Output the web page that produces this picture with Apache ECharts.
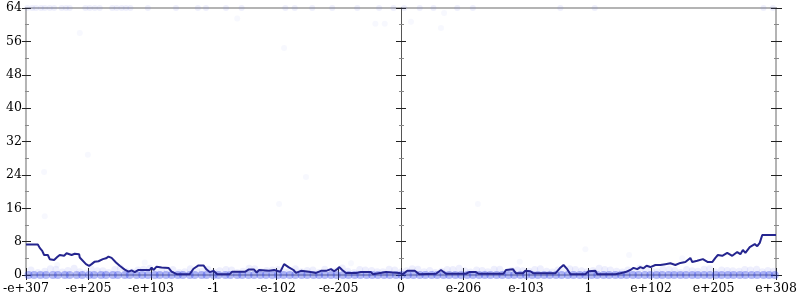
<!DOCTYPE html>
<html>
<head>
<meta charset="utf-8">
<script src="https://cdn.jsdelivr.net/npm/echarts@6/dist/echarts.min.js"></script>
<style>html,body{margin:0;padding:0;background:#fff}#c{width:800px;height:300px}</style>
</head>
<body>
<div id="c"></div>
<script>
const xTickLabels = ['-e+307','-e+205','-e+103','-1','-e-102','-e-205','0','e-206','e-103','1','e+102','e+205','e+308'];
const yTicks = [0, 8, 16, 24, 32, 40, 48, 56, 64];

const lineX = [-6.00,-5.81,-5.78,-5.74,-5.71,-5.65,-5.62,-5.55,-5.50,-5.46,-5.39,-5.35,-5.27,-5.22,-5.15,-5.14,-5.11,-5.04,-4.99,-4.95,-4.90,-4.84,-4.77,-4.72,-4.68,-4.63,-4.56,-4.50,-4.42,-4.36,-4.31,-4.26,-4.20,-4.02,-3.99,-3.96,-3.91,-3.83,-3.72,-3.67,-3.59,-3.38,-3.32,-3.24,-3.16,-3.11,-3.06,-3.00,-2.94,-2.74,-2.70,-2.49,-2.44,-2.35,-2.31,-2.27,-2.11,-2.03,-1.93,-1.87,-1.80,-1.72,-1.68,-1.60,-1.47,-1.36,-1.28,-1.20,-1.12,-1.07,-1.02,-0.99,-0.94,-0.88,-0.72,-0.64,-0.48,-0.45,-0.24,-0.03,
 0.03,0.10,0.22,0.29,0.56,0.64,0.72,1.04,1.09,1.20,1.24,1.64,1.68,1.79,1.84,1.95,1.99,2.07,2.12,2.47,2.54,2.60,2.66,2.71,2.95,3.00,3.11,3.14,3.43,3.51,3.59,3.67,3.72,3.78,3.83,3.88,3.93,3.99,4.07,4.15,4.23,4.31,4.39,4.47,4.55,4.63,4.66,4.74,4.83,4.91,4.98,5.03,5.07,5.14,5.22,5.30,5.38,5.43,5.47,5.51,5.58,5.66,5.70,5.74,5.78,6.00];
const lineY = [7.3,7.3,6.5,5.8,4.8,4.8,3.8,3.6,4.3,4.8,4.6,5.2,4.8,5.1,5.0,4.2,4.0,2.6,2.2,2.6,3.2,3.3,3.8,4.0,4.4,4.1,3.0,2.2,1.3,0.8,1.1,0.7,1.2,1.2,1.8,1.2,2.0,1.8,1.7,0.8,0.2,0.2,1.5,2.3,2.3,1.3,0.7,1.0,0.2,0.2,0.8,0.8,1.3,1.3,0.6,1.2,1.0,1.2,0.8,2.6,1.9,1.2,0.5,1.0,0.8,0.5,1.0,1.0,1.4,0.9,1.4,1.9,1.2,0.5,0.5,0.7,0.7,0.2,0.7,0.5,
 0.2,1.0,1.0,0.2,0.3,1.2,0.3,0.3,0.7,0.7,0.3,0.3,1.2,1.4,0.4,0.4,1.0,0.9,0.4,0.4,1.6,2.4,1.4,0.2,0.2,0.9,1.0,0.2,0.2,0.4,0.7,1.2,1.7,1.4,1.9,1.6,2.2,1.9,2.4,2.4,2.6,2.8,2.4,2.9,3.1,4.1,3.1,3.4,3.8,3.1,3.1,4.1,4.8,4.6,5.3,4.6,5.5,5.0,6.0,5.3,6.7,7.4,6.9,7.7,9.6,9.6];

const zeroX = [-5.96,-5.87,-5.77,-5.68,-5.57,-5.49,-5.38,-5.30,-5.19,-5.10,-4.99,-4.91,-4.80,-4.72,-4.61,-4.53,-4.42,-4.34,-4.23,-4.14,-4.05,-3.94,-3.86,-3.76,-3.67,-3.57,-3.49,-3.38,-3.30,-3.19,-3.11,-3.00,-2.92,-2.81,-2.73,-2.62,-2.54,-2.44,-2.35,-2.25,-2.16,-2.06,-1.97,-1.88,-1.78,-1.69,-1.59,-1.50,-1.40,-1.31,-1.22,-1.12,-1.03,-0.93,-0.84,-0.74,-0.65,-0.55,-0.46,-0.37,-0.27,-0.18,-0.08,0.01,0.11,0.20,0.30,0.39,0.49,0.58,0.68,0.77,0.87,0.96,1.06,1.15,1.25,1.34,1.43,1.53,1.62,1.72,1.81,1.91,2.00,2.10,2.19,2.29,2.38,2.48,2.57,2.67,2.76,2.86,2.95,3.05,3.14,3.24,3.33,3.43,3.52,3.61,3.71,3.80,3.90,3.99,4.09,4.18,4.28,4.37,4.47,4.56,4.66,4.75,4.85,4.94,5.04,5.13,5.23,5.32,5.42,5.51,5.61,5.70,5.80,5.89,5.98];
const haloX = [-5.92,-5.81,-5.70,-5.61,-5.52,-5.42,-5.33,-5.23,-5.14,-5.05,-4.96,-4.86,-4.77,-4.68,-4.58,-4.49,-4.40,-4.30,-4.21,-4.12,-4.02,-3.93,-3.83,-3.74,-3.65,-3.55,-3.46,-3.37,-3.27,-3.18,-3.09,-2.99,-2.90,-2.80,-2.71,-2.62,-2.53,-2.43,-2.34,-2.24,-2.15,-2.06,-1.97,-1.87,-1.78,-1.69,-1.59,-1.50,-1.41,-1.31,-1.22,-1.12,-1.03,-0.94,-0.85,-0.75,-0.66,-0.57,-0.47,-0.38,-0.29,-0.19,-0.10,0.00,0.09,0.18,0.27,0.37,0.46,0.55,0.65,0.74,0.83,0.93,1.02,1.11,1.21,1.30,1.39,1.49,1.58,1.67,1.77,1.86,1.95,2.05,2.14,2.23,2.33,2.42,2.51,2.61,2.70,2.79,2.89,2.98,3.07,3.17,3.26,3.35,3.45,3.54,3.63,3.73,3.82,3.91,4.01,4.10,4.19,4.29,4.38,4.47,4.57,4.66,4.75,4.85,4.94,5.03,5.13,5.22,5.31,5.41,5.50,5.59,5.69,5.78,5.87,5.96];
const haloY = [1.2,0.6,0.9,1.5,1.4,0.7,1.1,1.6,0.8,0.5,1.5,1.0,1.0,0.6,1.3,1.7,0.9,0.7,1.2,1.4,1.6,0.8,1.0,1.2,1.3,0.6,0.8,1.5,1.1,0.9,1.4,0.7,1.0,1.3,1.2,0.6,0.9,1.6,1.5,0.8,1.1,1.2,1.3,0.7,1.0,1.5,0.8,1.1,1.2,0.6,1.4,0.9,1.0,1.7,0.9,0.6,1.3,1.2,1.1,0.8,0.8,1.4,1.2,0.7,1.0,1.5,1.4,0.8,1.1,0.6,0.9,1.3,1.3,1.6,1.0,0.7,1.2,1.1,0.8,1.4,1.4,0.6,1.1,1.2,1.0,0.9,1.3,1.5,0.9,0.7,1.2,1.0,1.5,1.3,1.0,0.8,1.1,1.6,1.3,1.2,0.9,0.7,1.2,1.0,1.6,1.5,1.0,0.8,1.4,1.3,1.1,0.6,1.3,1.0,0.9,1.4,1.5,0.7,1.2,1.1,1.0,0.9,1.3,1.2,1.4,0.8,1.1,0.9];
const topX = [-5.98,-5.90,-5.84,-5.76,-5.70,-5.62,-5.55,-5.43,-5.36,-5.30,-5.05,-4.98,-4.90,-4.82,-4.62,-4.55,-4.47,-4.40,-4.33,-4.05,-3.60,-3.25,-3.12,-2.80,-2.55,-1.85,-1.70,-1.42,-1.10,-0.70,-0.35,-0.12,0.05,0.30,0.52,0.90,1.15,2.55,3.10,5.80,5.95];
const outX = [-5.70,-5.71,-5.01,-5.14,-2.62,-1.87,-1.52,-1.95,-0.41,-0.26,0.16,0.64,0.69,1.23,2.95,3.65,-5.50,-4.10,-0.80,1.90,4.50];
const outY = [14.1,24.7,28.8,58.0,61.5,54.4,23.5,17.0,60.2,60.2,60.7,59.2,62.8,17.0,6.2,4.8,2.4,3.0,2.8,3.2,4.0];

const pair = (xs, ys) => xs.map((x, i) => [x, ys[i]]);
const FONT = 'DejaVu Serif';
const gridLine = '#b4b4b4';

function yAx(extra) {
  return Object.assign({
    type: 'value', min: 0, max: 64, interval: 8,
    splitLine: { show: false },
    axisLabel: { show: false },
    axisLine: { show: false, onZero: false },
    minorSplitLine: { show: false }
  }, extra);
}

const option = {
  animation: false,
  grid: { left: 24, right: 24, top: 8, bottom: 25, show: true, borderColor: gridLine, borderWidth: 2, backgroundColor: 'transparent' },
  xAxis: [
    { type: 'value', min: -6, max: 6, interval: 1, position: 'bottom',
      axisLine: { show: false },
      splitLine: { show: false },
      axisTick: { show: true, inside: false, length: 5, lineStyle: { color: '#222' } },
      axisLabel: { show: true, margin: 7, fontFamily: FONT, fontSize: 12.5, color: '#000',
        formatter: v => xTickLabels[Math.round(v) + 6] } },
    { type: 'value', min: -6, max: 6, interval: 1, position: 'bottom',
      axisLine: { show: false },
      splitLine: { show: false },
      axisTick: { show: true, inside: true, length: 7, lineStyle: { color: '#222' } },
      axisLabel: { show: false } }
  ],
  yAxis: [
    yAx({ position: 'left',
      axisTick: { show: true, inside: false, length: 4, lineStyle: { color: '#222' } },
      minorTick: { show: true, splitNumber: 2, length: 1, lineStyle: { color: '#888' } },
      axisLabel: { show: true, margin: 4, fontFamily: FONT, fontSize: 12.5, color: '#000',
        formatter: v => String(yTicks[Math.round(v / 8)]) } }),
    yAx({ position: 'left',
      axisTick: { show: true, inside: true, length: 5, lineStyle: { color: '#222' } },
      minorTick: { show: true, splitNumber: 2, length: 3, lineStyle: { color: '#888' } } }),
    yAx({ position: 'left',
      axisLine: { show: true, onZero: true, lineStyle: { color: '#555', width: 1 } },
      axisTick: { show: true, inside: false, length: 5, lineStyle: { color: '#222' } },
      minorTick: { show: true, splitNumber: 2, length: 2, lineStyle: { color: '#888' } } }),
    yAx({ position: 'left',
      axisLine: { show: false, onZero: true },
      axisTick: { show: true, inside: true, length: 5, lineStyle: { color: '#222' } },
      minorTick: { show: true, splitNumber: 2, length: 3, lineStyle: { color: '#888' } } }),
    yAx({ position: 'right',
      axisTick: { show: true, inside: false, length: 6, lineStyle: { color: '#222' } },
      minorTick: { show: true, splitNumber: 2, length: 3, lineStyle: { color: '#888' } } }),
    yAx({ position: 'right',
      axisTick: { show: true, inside: true, length: 5, lineStyle: { color: '#222' } },
      minorTick: { show: true, splitNumber: 2, length: 2, lineStyle: { color: '#888' } } })
  ],
  series: [
    { type: 'scatter', clip: false, symbolSize: 7, data: pair(haloX, haloY),
      itemStyle: { color: 'rgba(120,135,240,0.16)' } },
    { type: 'scatter', clip: false, symbolSize: 6, data: topX.map(x => [x, 64]),
      itemStyle: { color: 'rgba(110,125,235,0.14)' } },
    { type: 'scatter', clip: false, symbolSize: 6, data: pair(outX, outY),
      itemStyle: { color: 'rgba(110,125,235,0.07)' } },
    { type: 'scatter', clip: false, symbolSize: 8, data: zeroX.map(x => [x, 0]),
      itemStyle: { color: 'rgba(45,65,230,0.45)' } },
    { type: 'line', data: pair(lineX, lineY), showSymbol: false, symbol: 'none',
      lineStyle: { color: '#25258f', width: 2 }, z: 5 }
  ]
};
const chart = echarts.init(document.getElementById('c'), null, { renderer: 'canvas' });
chart.setOption(option);
</script>
</body>
</html>
